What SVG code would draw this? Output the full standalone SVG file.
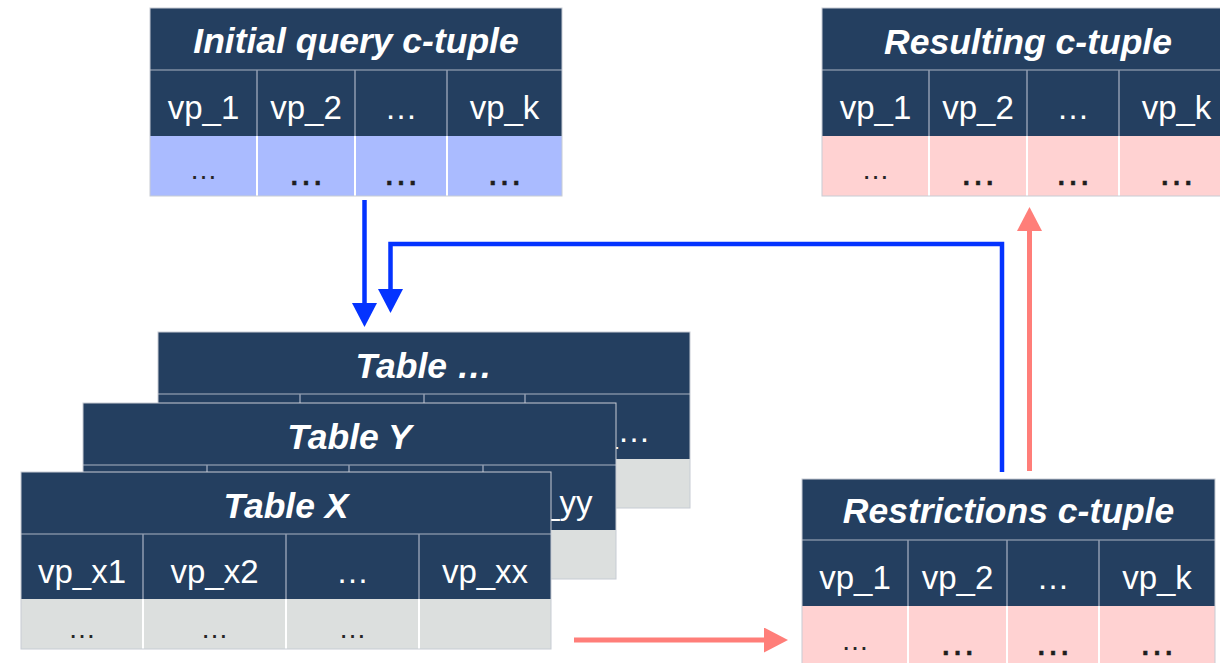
<svg xmlns="http://www.w3.org/2000/svg" width="1220" height="663" viewBox="0 0 1220 663">
  <defs>
    <style>
      .hd { fill: #243F60; }
      .frame { fill: none; stroke: #c7ccd4; stroke-width: 1; }
      .hsep { stroke: #a9b3c1; stroke-width: 1.2; }
      .vsep { stroke: #8f9db0; stroke-width: 1.5; }
      .dsep { stroke: #ffffff; stroke-width: 2; }
      .blue { fill: #AABBFF; }
      .pink { fill: #FFD2D2; }
      .gray { fill: #DCDFDE; }
      .ttl { font-family: "Liberation Sans", Arial, sans-serif; font-style: italic; font-weight: bold; font-size: 35.5px; fill: #ffffff; text-anchor: middle; }
      .cell { font-family: "Liberation Sans", Arial, sans-serif; font-size: 33px; fill: #ffffff; text-anchor: middle; }
      .ds { font-family: "Liberation Sans", Arial, sans-serif; font-size: 28px; fill: #262626; text-anchor: middle; }
      .dl { font-family: "Liberation Sans", Arial, sans-serif; font-size: 37px; fill: #1e1e1e; text-anchor: middle; stroke: #1e1e1e; stroke-width: 0.6; }
      .link-blue { fill: none; stroke: #0433FF; stroke-width: 4.5; }
      .link-red { fill: none; stroke: #FF7E79; stroke-width: 5; }
    </style>
    <marker id="head-blue" viewBox="0 0 24 25" refX="0" refY="12.5" markerWidth="24" markerHeight="25" markerUnits="userSpaceOnUse" orient="auto">
      <path d="M0,0 L24,12.5 L0,25 Z" fill="#0433FF"/>
    </marker>
    <marker id="head-red" viewBox="0 0 24 25" refX="0" refY="12.5" markerWidth="24" markerHeight="25" markerUnits="userSpaceOnUse" orient="auto">
      <path d="M0,0 L24,12.5 L0,25 Z" fill="#FF7E79"/>
    </marker>
  </defs>

  <rect width="1220" height="663" fill="#ffffff"/>

  <!-- back table of the stack -->
  <g id="table-etc">
    <rect class="hd" x="158" y="332" width="532" height="127"/>
    <rect class="gray" x="158" y="459" width="532" height="49"/>
    <line class="hsep" x1="158" y1="394" x2="690" y2="394"/>
    <line class="vsep" x1="300" y1="394" x2="300" y2="459"/>
    <line class="vsep" x1="424" y1="394" x2="424" y2="459"/>
    <line class="vsep" x1="525" y1="394" x2="525" y2="459"/>
    <rect class="frame" x="158" y="332" width="532" height="176"/>
    <text class="ttl" x="424" y="378">Table …</text>
    <text class="cell" x="607.5" y="442">vp_…</text>
  </g>

  <!-- middle table of the stack -->
  <g id="table-y">
    <rect class="hd" x="83" y="403" width="533" height="127"/>
    <rect class="gray" x="83" y="530" width="533" height="49"/>
    <line class="hsep" x1="83" y1="465" x2="616" y2="465"/>
    <line class="vsep" x1="207" y1="465" x2="207" y2="530"/>
    <line class="vsep" x1="349" y1="465" x2="349" y2="530"/>
    <line class="vsep" x1="483" y1="465" x2="483" y2="530"/>
    <rect class="frame" x="83" y="403" width="533" height="176"/>
    <text class="ttl" x="349.5" y="449">Table Y</text>
    <text class="cell" x="549.5" y="513.5">vp_yy</text>
  </g>

  <!-- front table of the stack -->
  <g id="table-x">
    <rect class="hd" x="21" y="472" width="530" height="127"/>
    <rect class="gray" x="21" y="599" width="530" height="50"/>
    <line class="hsep" x1="21" y1="534" x2="551" y2="534"/>
    <line class="vsep" x1="143" y1="534" x2="143" y2="599"/>
    <line class="vsep" x1="286" y1="534" x2="286" y2="599"/>
    <line class="vsep" x1="419" y1="534" x2="419" y2="599"/>
    <line class="dsep" x1="143" y1="599" x2="143" y2="649"/>
    <line class="dsep" x1="286" y1="599" x2="286" y2="649"/>
    <line class="dsep" x1="419" y1="599" x2="419" y2="649"/>
    <rect class="frame" x="21" y="472" width="530" height="177"/>
    <text class="ttl" x="286" y="518">Table X</text>
    <text class="cell" x="82" y="582.5">vp_x1</text>
    <text class="cell" x="214.5" y="582.5">vp_x2</text>
    <text class="cell" x="352.5" y="582.5">…</text>
    <text class="cell" x="485" y="582.5">vp_xx</text>
    <text class="ds" x="82" y="638">…</text>
    <text class="ds" x="214.5" y="638">…</text>
    <text class="ds" x="352.5" y="638">…</text>
  </g>

  <g id="initial-query">
    <rect class="hd" x="150" y="8" width="412" height="128"/>
    <rect class="blue" x="150" y="136" width="412" height="60"/>
    <line class="hsep" x1="150" y1="70" x2="562" y2="70"/>
    <line class="vsep" x1="257" y1="70" x2="257" y2="136"/>
    <line class="vsep" x1="355" y1="70" x2="355" y2="136"/>
    <line class="vsep" x1="447" y1="70" x2="447" y2="136"/>
    <line class="dsep" x1="257" y1="136" x2="257" y2="196"/>
    <line class="dsep" x1="355" y1="136" x2="355" y2="196"/>
    <line class="dsep" x1="447" y1="136" x2="447" y2="196"/>
    <rect class="frame" x="150" y="8" width="412" height="188"/>
    <text class="ttl" x="356" y="53">Initial query c-tuple</text>
    <text class="cell" x="203.5" y="118.5">vp_1</text>
    <text class="cell" x="306" y="118.5">vp_2</text>
    <text class="cell" x="401" y="118.5">…</text>
    <text class="cell" x="504.5" y="118.5">vp_k</text>
    <text class="ds" x="203.5" y="179">…</text>
    <text class="dl" x="306" y="185">…</text>
    <text class="dl" x="401" y="185">…</text>
    <text class="dl" x="504.5" y="185">…</text>
  </g>

  <g id="resulting">
    <rect class="hd" x="822" y="8" width="412" height="128"/>
    <rect class="pink" x="822" y="136" width="412" height="60"/>
    <line class="hsep" x1="822" y1="70" x2="1234" y2="70"/>
    <line class="vsep" x1="929" y1="70" x2="929" y2="136"/>
    <line class="vsep" x1="1027" y1="70" x2="1027" y2="136"/>
    <line class="vsep" x1="1119" y1="70" x2="1119" y2="136"/>
    <line class="dsep" x1="929" y1="136" x2="929" y2="196"/>
    <line class="dsep" x1="1027" y1="136" x2="1027" y2="196"/>
    <line class="dsep" x1="1119" y1="136" x2="1119" y2="196"/>
    <rect class="frame" x="822" y="8" width="412" height="188"/>
    <text class="ttl" x="1028" y="54">Resulting c-tuple</text>
    <text class="cell" x="875.5" y="118.5">vp_1</text>
    <text class="cell" x="978" y="118.5">vp_2</text>
    <text class="cell" x="1073" y="118.5">…</text>
    <text class="cell" x="1176.5" y="118.5">vp_k</text>
    <text class="ds" x="875.5" y="179">…</text>
    <text class="dl" x="978" y="185">…</text>
    <text class="dl" x="1073" y="185">…</text>
    <text class="dl" x="1176.5" y="185">…</text>
  </g>

  <g id="restrictions">
    <rect class="hd" x="802" y="479" width="413" height="127"/>
    <rect class="pink" x="802" y="606" width="413" height="60"/>
    <line class="hsep" x1="802" y1="540" x2="1215" y2="540"/>
    <line class="vsep" x1="908" y1="540" x2="908" y2="606"/>
    <line class="vsep" x1="1007" y1="540" x2="1007" y2="606"/>
    <line class="vsep" x1="1099" y1="540" x2="1099" y2="606"/>
    <line class="dsep" x1="908" y1="606" x2="908" y2="666"/>
    <line class="dsep" x1="1007" y1="606" x2="1007" y2="666"/>
    <line class="dsep" x1="1099" y1="606" x2="1099" y2="666"/>
    <rect class="frame" x="802" y="479" width="413" height="187"/>
    <text class="ttl" x="1008.5" y="523">Restrictions c-tuple</text>
    <text class="cell" x="855" y="588.5">vp_1</text>
    <text class="cell" x="957.5" y="588.5">vp_2</text>
    <text class="cell" x="1053" y="588.5">…</text>
    <text class="cell" x="1157" y="588.5">vp_k</text>
    <text class="ds" x="855" y="650">…</text>
    <text class="dl" x="957.5" y="655">…</text>
    <text class="dl" x="1053" y="655">…</text>
    <text class="dl" x="1157" y="655">…</text>
  </g>

  <g id="connectors">
    <path class="link-blue" d="M364.5,200 V303" marker-end="url(#head-blue)"/>
    <path class="link-blue" d="M1002,472 V244 H390.5 V289" marker-end="url(#head-blue)"/>
    <path class="link-red" d="M1029.5,471 V231" marker-end="url(#head-red)"/>
    <path class="link-red" d="M574,640 H764" marker-end="url(#head-red)"/>
  </g>
</svg>
